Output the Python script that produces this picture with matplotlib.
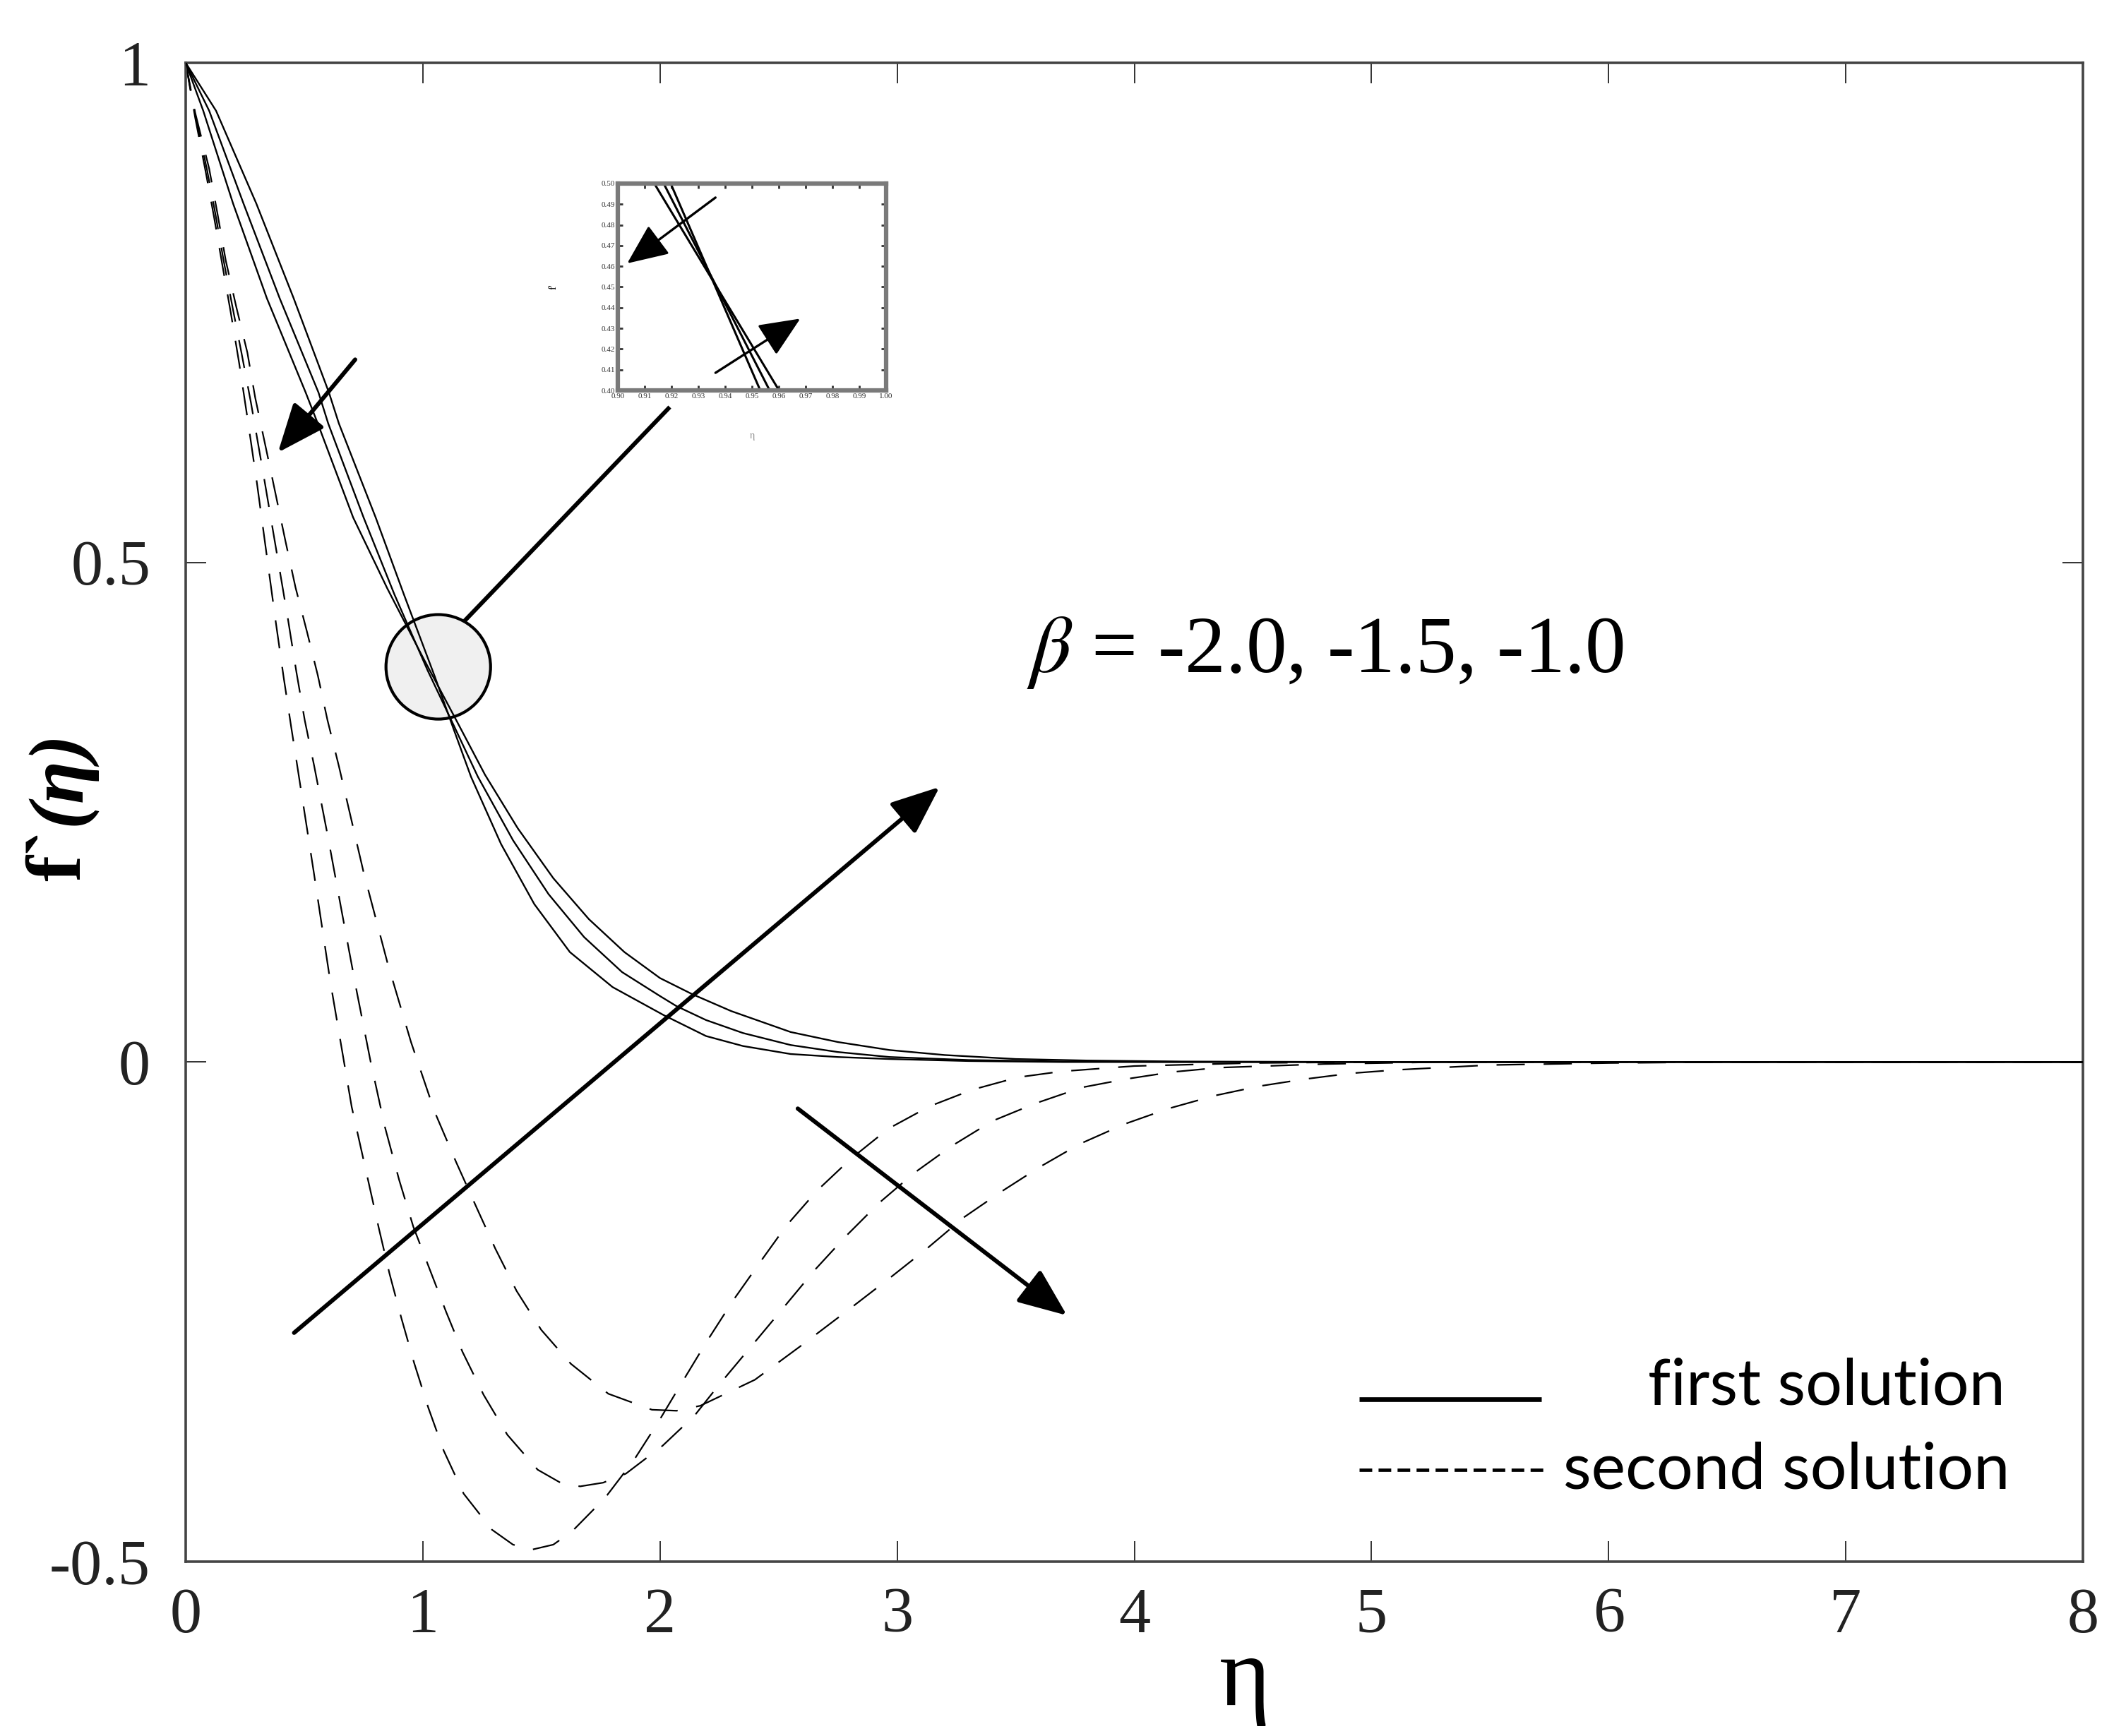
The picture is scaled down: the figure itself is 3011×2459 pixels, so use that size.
import matplotlib
matplotlib.use("Agg")
import matplotlib.pyplot as plt
from matplotlib.patches import Ellipse
from matplotlib.lines import Line2D

# ---------------- data ----------------
beta_values = ["-2.0", "-1.5", "-1.0"]

# first solution (solid)
eta_first_b10 = [0, 0.074, 0.20, 0.342, 0.506, 0.557, 0.706, 0.85, 1.0, 1.13, 1.262, 1.40, 1.55, 1.70,
                 1.85, 2.0, 2.135, 2.30, 2.551, 2.75, 2.968, 3.20, 3.50, 3.80, 4.20, 5.0, 6.0, 8.0]
f_first_b10 = [1, 0.952, 0.859, 0.7645, 0.67, 0.639, 0.545, 0.474, 0.405, 0.347, 0.2875, 0.234, 0.184, 0.143,
               0.110, 0.084, 0.068, 0.051, 0.030, 0.020, 0.012, 0.007, 0.003, 0.0015, 0.0005, 0, 0, 0]

eta_first_b15 = [0, 0.099, 0.244, 0.396, 0.560, 0.601, 0.750, 0.88, 1.02, 1.13, 1.232, 1.38, 1.53, 1.68,
                 1.84, 2.0, 2.069, 2.194, 2.35, 2.551, 2.75, 2.968, 3.30, 3.70, 4.20, 5.0, 6.0, 8.0]
f_first_b15 = [1, 0.952, 0.859, 0.7645, 0.67, 0.639, 0.545, 0.468, 0.392, 0.337, 0.2855, 0.222, 0.168, 0.125,
               0.090, 0.066, 0.056, 0.042, 0.029, 0.017, 0.010, 0.005, 0.002, 0.0005, 0.0001, 0, 0, 0]

eta_first_b20 = [0, 0.128, 0.298, 0.455, 0.604, 0.646, 0.801, 0.92, 1.05, 1.13, 1.203, 1.33, 1.47, 1.62,
                 1.80, 2.015, 2.194, 2.35, 2.551, 2.75, 2.968, 3.30, 3.70, 5.0, 6.0, 8.0]
f_first_b20 = [1, 0.952, 0.859, 0.7645, 0.67, 0.639, 0.545, 0.468, 0.386, 0.333, 0.2855, 0.218, 0.158, 0.110,
               0.075, 0.047, 0.026, 0.016, 0.008, 0.005, 0.003, 0.001, 0, 0, 0, 0]

# second solution (dashed)
eta_second_1 = [0, 0.04, 0.085, 0.12, 0.155, 0.19, 0.225, 0.26, 0.30, 0.34, 0.38, 0.413, 0.445, 0.47, 0.54,
                0.61, 0.70, 0.815, 0.859, 0.909, 0.963, 1.023, 1.088, 1.172, 1.291, 1.38, 1.46, 1.55, 1.628,
                1.769, 1.891, 1.991, 2.097, 2.199, 2.31, 2.42, 2.532, 2.661, 2.804, 2.963, 3.137, 3.316,
                3.509, 3.692, 4.0, 4.5, 5.0, 8.0]
f_second_1 = [1, 0.945, 0.89, 0.845, 0.797, 0.75, 0.70, 0.645, 0.58, 0.51, 0.44, 0.385, 0.335, 0.297, 0.19,
              0.08, -0.045, -0.167, -0.2115, -0.256, -0.301, -0.346, -0.389, -0.432, -0.468, -0.483, -0.488,
              -0.483, -0.470, -0.436, -0.398, -0.361, -0.319, -0.279, -0.238, -0.201, -0.164, -0.129,
              -0.097, -0.0667, -0.0443, -0.0278, -0.0153, -0.0094, -0.004, -0.001, 0, 0]

eta_second_2 = [0, 0.04, 0.089, 0.125, 0.16, 0.197, 0.235, 0.275, 0.33, 0.38, 0.43, 0.467, 0.502, 0.542,
                0.60, 0.66, 0.72, 0.78, 0.84, 0.90, 0.96, 1.033, 1.098, 1.167, 1.256, 1.356, 1.484, 1.58,
                1.663, 1.76, 1.856, 2.011, 2.145, 2.244, 2.45, 2.653, 2.785, 2.924, 3.072, 3.231, 3.403,
                3.582, 3.78, 3.966, 4.16, 4.36, 4.8, 5.3, 8.0]
f_second_2 = [1, 0.948, 0.894, 0.849, 0.802, 0.756, 0.71, 0.66, 0.585, 0.515, 0.445, 0.39, 0.342, 0.296,
              0.225, 0.148, 0.072, 0.0, -0.065, -0.118, -0.165, -0.21, -0.25, -0.29, -0.333, -0.373, -0.408,
              -0.421, -0.4247, -0.421, -0.412, -0.384, -0.354, -0.3245, -0.266, -0.208, -0.174, -0.141,
              -0.111, -0.0839, -0.0589, -0.0415, -0.0254, -0.017, -0.010, -0.0056, -0.002, 0, 0]

eta_second_3 = [0, 0.04, 0.099, 0.134, 0.169, 0.213, 0.26, 0.293, 0.36, 0.42, 0.463, 0.512, 0.557, 0.598,
                0.646, 0.75, 0.85, 0.95, 1.05, 1.14, 1.231, 1.306, 1.395, 1.499, 1.624, 1.782, 1.966, 2.07,
                2.17, 2.4, 2.6, 2.8, 2.975, 3.124, 3.284, 3.44, 3.603, 3.77, 3.96, 4.144, 4.338, 4.526,
                4.716, 4.913, 5.11, 5.5, 6.0, 6.5, 8.0]
f_second_3 = [1, 0.95, 0.894, 0.849, 0.802, 0.756, 0.71, 0.665, 0.59, 0.522, 0.475, 0.43, 0.387, 0.342,
              0.296, 0.19, 0.10, 0.02, -0.05, -0.10, -0.148, -0.187, -0.229, -0.268, -0.302, -0.332, -0.348,
              -0.349, -0.344, -0.318, -0.283, -0.247, -0.215, -0.187, -0.155, -0.1296, -0.1048, -0.082,
              -0.062, -0.0466, -0.0337, -0.0242, -0.0172, -0.0113, -0.0078, -0.003, -0.001, 0, 0]

# inset (magnified crossing of the first-solution curves), in inset units
inset_eta_a = [0.9136, 0.9601]
inset_eta_b = [0.9171, 0.9566]
inset_eta_c = [0.9197, 0.9531]
inset_f = [0.50, 0.40]

xticks = [0, 1, 2, 3, 4, 5, 6, 7, 8]
xticklabels = ["0", "1", "2", "3", "4", "5", "6", "7", "8"]
yticks = [1, 0.5, 0, -0.5]
yticklabels = ["1", "0.5", "0", "-0.5"]

# ---------------- figure ----------------
plt.rcParams["font.family"] = ["Liberation Serif", "DejaVu Serif"]
plt.rcParams["mathtext.fontset"] = "stix"
plt.rcParams["axes.unicode_minus"] = False

fig = plt.figure(figsize=(30.11, 24.59), dpi=100)
ax = fig.add_axes([0.08735, 0.10045, 0.89239, 0.86336])
ax.set_xlim(0, 8)
ax.set_ylim(-0.5, 1)

for e, f in [(eta_first_b10, f_first_b10), (eta_first_b15, f_first_b15), (eta_first_b20, f_first_b20)]:
    ax.plot(e, f, color="black", lw=1.7, zorder=4)
for e, f in [(eta_second_1, f_second_1), (eta_second_2, f_second_2), (eta_second_3, f_second_3)]:
    ax.plot(e, f, color="black", lw=1.6, linestyle=(0, (18, 12)))

ax.set_xticks(xticks)
ax.set_xticklabels(xticklabels)
ax.set_yticks(yticks)
ax.set_yticklabels(yticklabels)
ax.tick_params(direction="in", length=21, width=1.3, top=True, right=True, labelsize=65, colors="#222222")
ax.tick_params(axis="x", pad=26)
ax.tick_params(axis="y", pad=36)
for sp in ax.spines.values():
    sp.set_linewidth(2.6)
    sp.set_color("#444444")

# axis labels
fig.text(0.5855, 0.0317, "η", fontsize=100, ha="center", va="center")
t1 = fig.text(0.0375, 0.4925, "f`", rotation=90, rotation_mode="anchor", fontsize=80,
              fontweight="bold", ha="left", va="baseline")
fig.canvas.draw()
bb = t1.get_window_extent(renderer=fig.canvas.get_renderer())
fig.text(0.0375, bb.y1 / fig.bbox.height + 0.002, "(η)", rotation=90, rotation_mode="anchor", fontsize=80,
         fontweight="bold", fontstyle="italic", ha="left", va="baseline")

# beta annotation
ax.text(3.546, 0.390, r"$\beta$ = " + ", ".join(beta_values), fontsize=83, va="baseline", ha="left")

# arrows
arrow_kw = dict(arrowstyle="-|>,head_length=0.85,head_width=0.35", color="black", lw=4.3,
                mutation_scale=50, shrinkA=0, shrinkB=0)
ax.annotate("", xy=(3.179, 0.2753), xytext=(0.457, -0.271), arrowprops=arrow_kw)
ax.annotate("", xy=(3.716, -0.2536), xytext=(2.581, -0.0466), arrowprops=arrow_kw)
ax.annotate("", xy=(0.389, 0.610), xytext=(0.7145, 0.703), arrowprops=arrow_kw)

# magnifier circle and connector
circ = Ellipse((1.065, 0.3955), width=0.441, height=0.1046, facecolor="#f0f0f0",
               edgecolor="black", lw=3.0, zorder=3)
ax.add_patch(circ)
ax.add_line(Line2D([1.182, 2.035], [0.443, 0.654], color="black", lw=4.3, zorder=4))

# legend (manual)
ax.add_line(Line2D([4.947, 5.716], [-0.3375, -0.3375], color="black", lw=4.8, solid_capstyle="butt"))
ax.add_line(Line2D([4.947, 5.744], [-0.408, -0.408], color="black", lw=3.4, linestyle=(0, (3.8, 1.9))))
ax.text(7.672, -0.343, "first solution", fontsize=66, family=["Lato", "DejaVu Sans"],
        ha="right", va="baseline")
ax.text(7.690, -0.427, "second solution", fontsize=66, family=["Lato", "DejaVu Sans"],
        ha="right", va="baseline")

# inset
axi = fig.add_axes([0.2906, 0.7751, 0.1262, 0.1192])
axi.set_xlim(0.90, 1.00)
axi.set_ylim(0.40, 0.50)
for e in (inset_eta_a, inset_eta_b, inset_eta_c):
    axi.plot(e, inset_f, color="black", lw=2.2)
axi.set_xticks([0.90 + 0.01 * i for i in range(11)])
axi.set_yticks([0.40 + 0.01 * i for i in range(11)])
axi.set_xticklabels(["%.2f" % (0.90 + 0.01 * i) for i in range(11)])
axi.set_yticklabels(["%.2f" % (0.40 + 0.01 * i) for i in range(11)])
axi.tick_params(direction="in", length=5, width=2.0, top=True, right=True, labelsize=8,
                colors="#333333", pad=3)
for sp in axi.spines.values():
    sp.set_linewidth(4.5)
    sp.set_color("#7a7a7a")
axi.text(-0.24, 0.5, "f'", transform=axi.transAxes, fontsize=11, ha="center", va="center", rotation=90)
axi.text(0.5, -0.22, "η", transform=axi.transAxes, fontsize=10, ha="center", va="center", color="#888888")
in_kw = dict(arrowstyle="-|>,head_length=0.8,head_width=0.35", color="black", lw=2.4,
             mutation_scale=45, shrinkA=0, shrinkB=0)
axi.annotate("", xy=(0.035, 0.614), xytext=(0.364, 0.932), xycoords="axes fraction",
             textcoords="axes fraction", arrowprops=in_kw)
axi.annotate("", xy=(0.68, 0.347), xytext=(0.364, 0.085), xycoords="axes fraction",
             textcoords="axes fraction", arrowprops=in_kw)

fig.savefig("out.png", dpi=100)
